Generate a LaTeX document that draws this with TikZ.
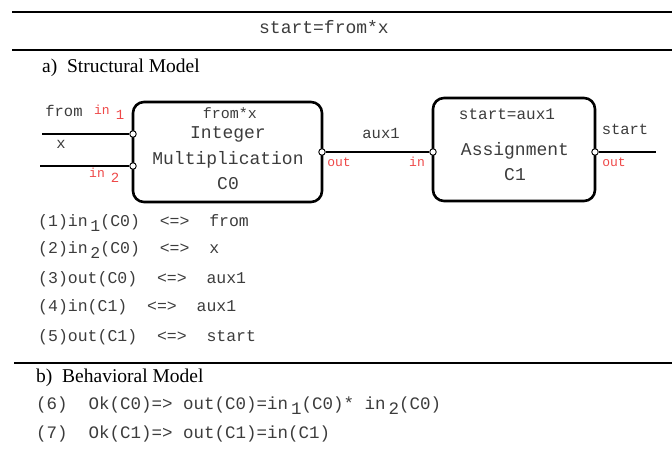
\documentclass[tikz,border=0pt]{standalone}
\usepackage{fontspec}
\setmainfont{Liberation Serif}
\setmonofont{Liberation Mono}
\usepackage{xcolor}
\definecolor{portred}{RGB}{238,72,72}
\definecolor{inkgray}{RGB}{60,60,60}
\usetikzlibrary{positioning}
\newcommand{\subidx}[1]{\,\raisebox{-5pt}{#1}}
\tikzset{
  comp/.style={draw,line width=2.6pt,rounded corners=11pt,inner sep=0pt},
  port/.style={circle,draw,fill=white,line width=0.9pt,inner sep=0pt,minimum size=6.5pt},
  wire/.style={line width=2.6pt},
  rule/.style={line width=2.6pt},
  mono/.style={font=\ttfamily\fontsize{#1}{#1}\selectfont,text=inkgray,inner sep=0pt},
  redlbl/.style={font=\ttfamily\fontsize{#1}{#1}\selectfont,text=portred,inner sep=0pt},
  heading/.style={font=\fontsize{19.5}{19.5}\selectfont,inner sep=0pt,anchor=west},
  eqn/.style={mono=#1,anchor=west}
}

\begin{document}
\begin{tikzpicture}[x=1pt,y=-1pt]
    \useasboundingbox (0,0) rectangle (672,457);
    % rules and titles
    \draw[rule] (12,12) -- (672,12);
    \node[mono=18] (spec) at (324,27) {start=from*x};
    \draw[rule] (12,50) -- (672,50);
    \node[heading] (parta) at (42,68) {a)\ \ Structural Model};
    % components
    \node[comp,minimum width=189pt,minimum height=100pt] (C0) at (227.5,152) {};
    \node[comp,minimum width=162pt,minimum height=103pt] (C1) at (514,149.5) {};
    \node[mono=15] (c0fn) at (230,113) {from*x};
    \node[mono=18] (c0a) at (228,134) {Integer};
    \node[mono=18] (c0b) at (228,160) {Multiplication};
    \node[mono=18] (c0id) at (228,184) {C0};
    \node[mono=16] (c1fn) at (507,114) {start=aux1};
    \node[mono=18] (c1a) at (515,151) {Assignment};
    \node[mono=18] (c1id) at (515,175) {C1};
    % ports
    \node[port] (in1) at (133,134) {};
    \node[port] (in2) at (133,166) {};
    \node[port] (out0) at (322,152) {};
    \node[port] (in3) at (433,152) {};
    \node[port] (out1) at (595,152) {};
    \coordinate (fromend) at (42,134);
    \coordinate (xend) at (40,166);
    \coordinate (startend) at (656,152);
    % wires
    \draw[wire] (fromend) -- (in1.west);
    \draw[wire] (xend) -- (in2.west);
    \draw[wire] (out0.east) -- (in3.west);
    \draw[wire] (out1.east) -- (startend);
    % labels
    \node[mono=15.5] (from) at (64,111) {from};
    \node[mono=15.5] (x) at (61,144) {x};
    \node[mono=15.5] (aux) at (381,133) {aux1};
    \node[mono=15.5] (start) at (625,129) {start};
    \node[redlbl=13] (lin1) at (102,110) {in};
    \node[redlbl=14] (lin1i) at (120,115) {1};
    \node[redlbl=13] (lin2) at (97,173) {in};
    \node[redlbl=14] (lin2i) at (115,178) {2};
    \node[redlbl=13] (lout0) at (339,162) {out};
    \node[redlbl=13] (lin3) at (417,162) {in};
    \node[redlbl=13] (lout1) at (614,162) {out};
    % structural equations
    \node[eqn=16.5] (e1) at (38,223) {(1)in\subidx{1}(C0)~~<=>~~from};
    \node[eqn=16.5] (e2) at (38,250) {(2)in\subidx{2}(C0)~~<=>~~x};
    \node[eqn=16.5] (e3) at (38,279) {(3)out(C0)~~<=>~~aux1};
    \node[eqn=16.5] (e4) at (38,307) {(4)in(C1)~~<=>~~aux1};
    \node[eqn=16.5] (e5) at (38,337) {(5)out(C1)~~<=>~~start};
    \draw[rule] (14,363) -- (672,363);
    \node[heading] (partb) at (36,378) {b)\ \ Behavioral Model};
    % behavioral equations
    \node[eqn=17.5] (e6) at (36,406) {(6)~~Ok(C0)=>~out(C0)=in\subidx{1}(C0)*~in\subidx{2}(C0)};
    \node[eqn=17.5] (e7) at (36,434) {(7)~~Ok(C1)=>~out(C1)=in(C1)};
\end{tikzpicture}
\end{document}
